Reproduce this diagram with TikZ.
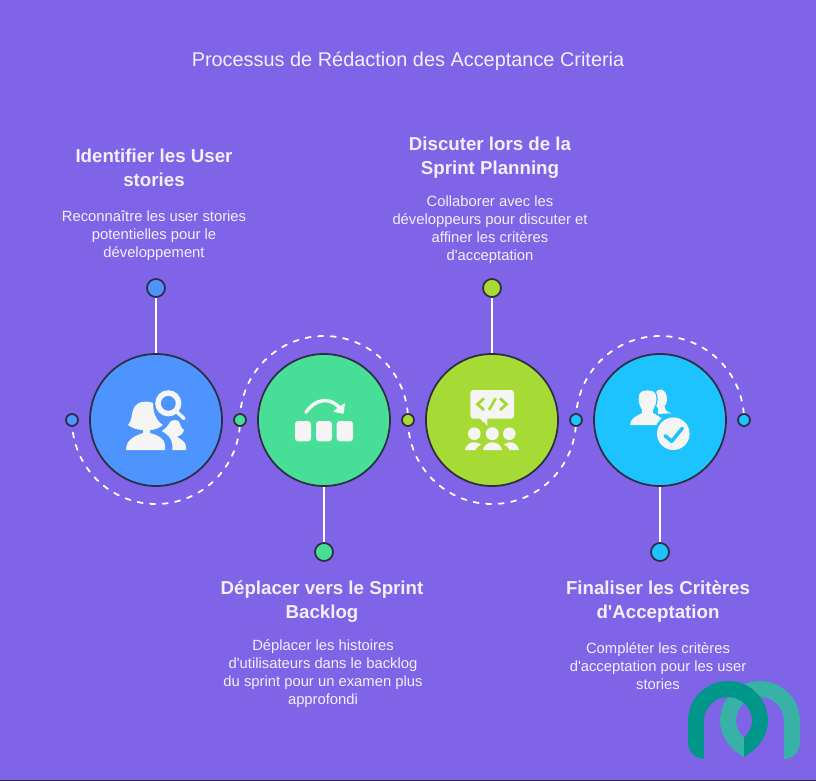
\documentclass[tikz,border=0pt]{standalone}
\usepackage{fontspec}
\setmainfont{Liberation Sans}
\usetikzlibrary{backgrounds}
\definecolor{pagebg}{HTML}{7F64E8}
\definecolor{ringline}{HTML}{2E2A3F}
\definecolor{stepblue}{HTML}{4D94FF}
\definecolor{stepgreen}{HTML}{47DE97}
\definecolor{steplime}{HTML}{A6DB35}
\definecolor{stepcyan}{HTML}{1CC3FF}
\definecolor{icongrey}{HTML}{F5F5F5}
\definecolor{textlight}{HTML}{F1F0FF}
\definecolor{logodark}{HTML}{00968A}
\definecolor{logolight}{HTML}{38B2A6}
\tikzset{
  bigring/.style={circle,draw=ringline,line width=1.7pt,minimum size=132pt,inner sep=0pt,fill=#1},
  endball/.style={circle,draw=ringline,line width=1.7pt,minimum size=18pt,inner sep=0pt,fill=#1},
  sideball/.style={circle,draw=ringline,line width=1.7pt,minimum size=12pt,inner sep=0pt,fill=#1},
  stemline/.style={white,line width=1.8pt},
  dashline/.style={white,line width=1.8pt,line cap=round,dash pattern=on 5.2pt off 7.4pt},
  headtext/.style={text=textlight,align=center,font=\fontsize{18.7}{24}\selectfont\bfseries},
  bodytext/.style={text=textlight,align=center,font=\fontsize{14.8}{18}\selectfont},
}
\begin{document}
\begin{tikzpicture}[x=1pt,y=-1pt]
    \useasboundingbox (0,0) rectangle (816,781);

    % step circles and the small balls on them
    \node[bigring=stepblue] (circ1) at (156,420) {};
    \node[bigring=stepgreen] (circ2) at (324,420) {};
    \node[bigring=steplime] (circ3) at (492,420) {};
    \node[bigring=stepcyan] (circ4) at (660,420) {};
    \node[endball=stepblue] (end1) at (156,288) {};
    \node[endball=stepgreen] (end2) at (324,552) {};
    \node[endball=steplime] (end3) at (492,288) {};
    \node[endball=stepcyan] (end4) at (660,552) {};
    \node[sideball=stepblue] (side1) at (72,420) {};
    \node[sideball=stepgreen] (side2) at (240,420) {};
    \node[sideball=steplime] (side3) at (408,420) {};
    \node[sideball=stepcyan] (side4) at (576,420) {};
    \node[sideball=stepcyan] (side5) at (744,420) {};

    \begin{pgfonlayer}{background}
      \fill[pagebg] (0,0) rectangle (816,781);
      \fill[ringline] (0,780) rectangle (816,781);
      \draw[stemline] (end1) -- (circ1);
      \draw[stemline] (end2) -- (circ2);
      \draw[stemline] (end3) -- (circ3);
      \draw[stemline] (end4) -- (circ4);
      \draw[dashline] (side1) arc (180:0:84);
      \draw[dashline] (side2) arc (180:360:84);
      \draw[dashline] (side3) arc (180:0:84);
      \draw[dashline] (side4) arc (180:360:84);
    \end{pgfonlayer}

    % texts
    \node[text=textlight,font=\fontsize{19.9}{24}\selectfont] (title) at (408,61.5) {Processus de Rédaction des Acceptance Criteria};
    \node[headtext] (head1) at (154,168) {Identifier les User\\stories};
    \node[bodytext] (body1) at (154,235.5) {Reconnaître les user stories\\potentielles pour le\\développement};
    \node[headtext] (head3) at (490,157.5) {Discuter lors de la\\Sprint Planning};
    \node[bodytext] (body3) at (490,229.5) {Collaborer avec les\\développeurs pour discuter et\\affiner les critères\\d\textquotesingle acceptation};
    \node[headtext] (head2) at (322,601.5) {Déplacer vers le Sprint\\Backlog};
    \node[bodytext] (body2) at (323,673.5) {Déplacer les histoires\\d\textquotesingle utilisateurs dans le backlog\\du sprint pour un examen plus\\approfondi};
    \node[headtext] (head4) at (658,601.5) {Finaliser les Critères\\d\textquotesingle Acceptation};
    \node[bodytext] (body4) at (658,666) {Compléter les critères\\d\textquotesingle acceptation pour les user\\stories};

    % icon of the first step
    \fill[icongrey] (126,450) .. controls (126,440) and (134,436) .. (143,433) -- (143,430)
      .. controls (137,430) and (132,428) .. (128,425) .. controls (132,421) and (131,416) .. (133,410)
      .. controls (135,404) and (140,401.7) .. (145,401.7) .. controls (149,401.7) and (151,402) .. (153,403)
      .. controls (153,412) and (156,421) .. (163,425) .. controls (159,428) and (155,430) .. (150,430)
      -- (150,433) .. controls (158,435) and (165,439) .. (165,445) -- (165,450) -- cycle;
    \fill[icongrey] (172.3,450) -- (186,450) -- (186,447) .. controls (186,442) and (181,439) .. (177,437)
      .. controls (180,436) and (183,434) .. (184,430) .. controls (181,428) and (180,424) .. (179,421.5)
      .. controls (177,419.5) and (172,419.5) .. (170,422) .. controls (168,426) and (165,429) .. (161.7,431)
      .. controls (167,434) and (172,438) .. (172.3,445) -- cycle;
    \draw[icongrey,line width=5.5pt] (168.3,403.3) circle (10.3);
    \draw[icongrey,line width=3.5pt,line cap=round] (176.7,411.7) -- (184,418.5);

    % icon of the second step
    \fill[icongrey,rounded corners=3pt] (295,441.3) rectangle (311,421);
    \fill[icongrey,rounded corners=3pt] (316,441.3) rectangle (332,421);
    \fill[icongrey,rounded corners=3pt] (336.7,441.3) rectangle (353,421);
    \draw[icongrey,line width=3.5pt,line cap=round] (306,412.3) .. controls (316,398) and (330,397) .. (340,408);
    \fill[icongrey,rounded corners=1pt] (345,402.7) -- (343.7,414) -- (332.7,411.7) -- cycle;

    % icon of the third step
    \fill[icongrey,rounded corners=3pt] (470.3,390) rectangle (514,418.7);
    \fill[icongrey] (478.3,417) -- (487.3,425.7) -- (487.3,417) -- cycle;
    \draw[steplime,line width=2.8pt] (484,398.3) -- (477.6,404.3) -- (484,410);
    \draw[steplime,line width=2.8pt] (495.7,398.3) -- (489,410);
    \draw[steplime,line width=2.8pt] (500,398.3) -- (506.4,404.3) -- (500,410);
    \fill[icongrey] (474.3,433.7) circle (6.3);
    \fill[icongrey] (492.3,433.7) circle (6.5);
    \fill[icongrey] (509.3,433.7) circle (6.3);
    \fill[icongrey] (465,450) .. controls (466,445) and (470,442.3) .. (474,442.3) .. controls (477,442.3) and (479,443) .. (481,444.5)
      .. controls (478,446) and (476,448) .. (475.5,450) -- cycle;
    \fill[icongrey] (483,450) .. controls (484,445) and (488,442.3) .. (492.5,442.3) .. controls (497,442.3) and (501,445) .. (502,450) -- cycle;
    \fill[icongrey] (519,450) .. controls (518,445) and (514,442.3) .. (510,442.3) .. controls (508,442.3) and (506,443) .. (504,444.5)
      .. controls (507,446) and (509,448) .. (509.5,450) -- cycle;

    % icon of the fourth step
    \fill[icongrey] (660.5,399) ellipse (6.5 and 9.5);
    \fill[icongrey] (658,405) -- (665,407) .. controls (664.5,410) and (667,412) .. (672,413.2) -- (658,414) -- cycle;
    \fill[icongrey,preaction={draw=stepcyan,line width=2.5pt}] (630,425) .. controls (630,419) and (636,416) .. (642,413)
      .. controls (643,411) and (642,410) .. (641,408) .. controls (638,403) and (638,396) .. (640,393)
      .. controls (642,389.5) and (653,389.5) .. (655,393) .. controls (657,396) and (657,403) .. (654,408)
      .. controls (653,410) and (652,411) .. (653,413) .. controls (659,416) and (664,419) .. (665,425) -- cycle;
    \fill[stepcyan] (673.3,433.7) circle (19);
    \fill[icongrey] (673.3,433.7) circle (16.3);
    \draw[stepcyan,line width=3.5pt,line cap=round,line join=round] (665,435.7) -- (671.7,441.3) -- (682.3,428.3);

    % logo
    \fill[logolight] (784,759) .. controls (793,759) and (800,751) .. (800,742) -- (800,721) arc (360:180:40)
      .. controls (720,736) and (731,750) .. (744,757) -- (744,738) .. controls (739,733) and (736,727) .. (736,721)
      arc (180:360:24) -- cycle;
    \fill[logodark] (704,759) .. controls (695,759) and (688,751) .. (688,742) -- (688,721) arc (180:360:40)
      .. controls (768,736) and (757,750) .. (744,757) -- (744,738) .. controls (749,733) and (752,727) .. (752,721)
      arc (360:180:24) -- cycle;
\end{tikzpicture}
\end{document}
